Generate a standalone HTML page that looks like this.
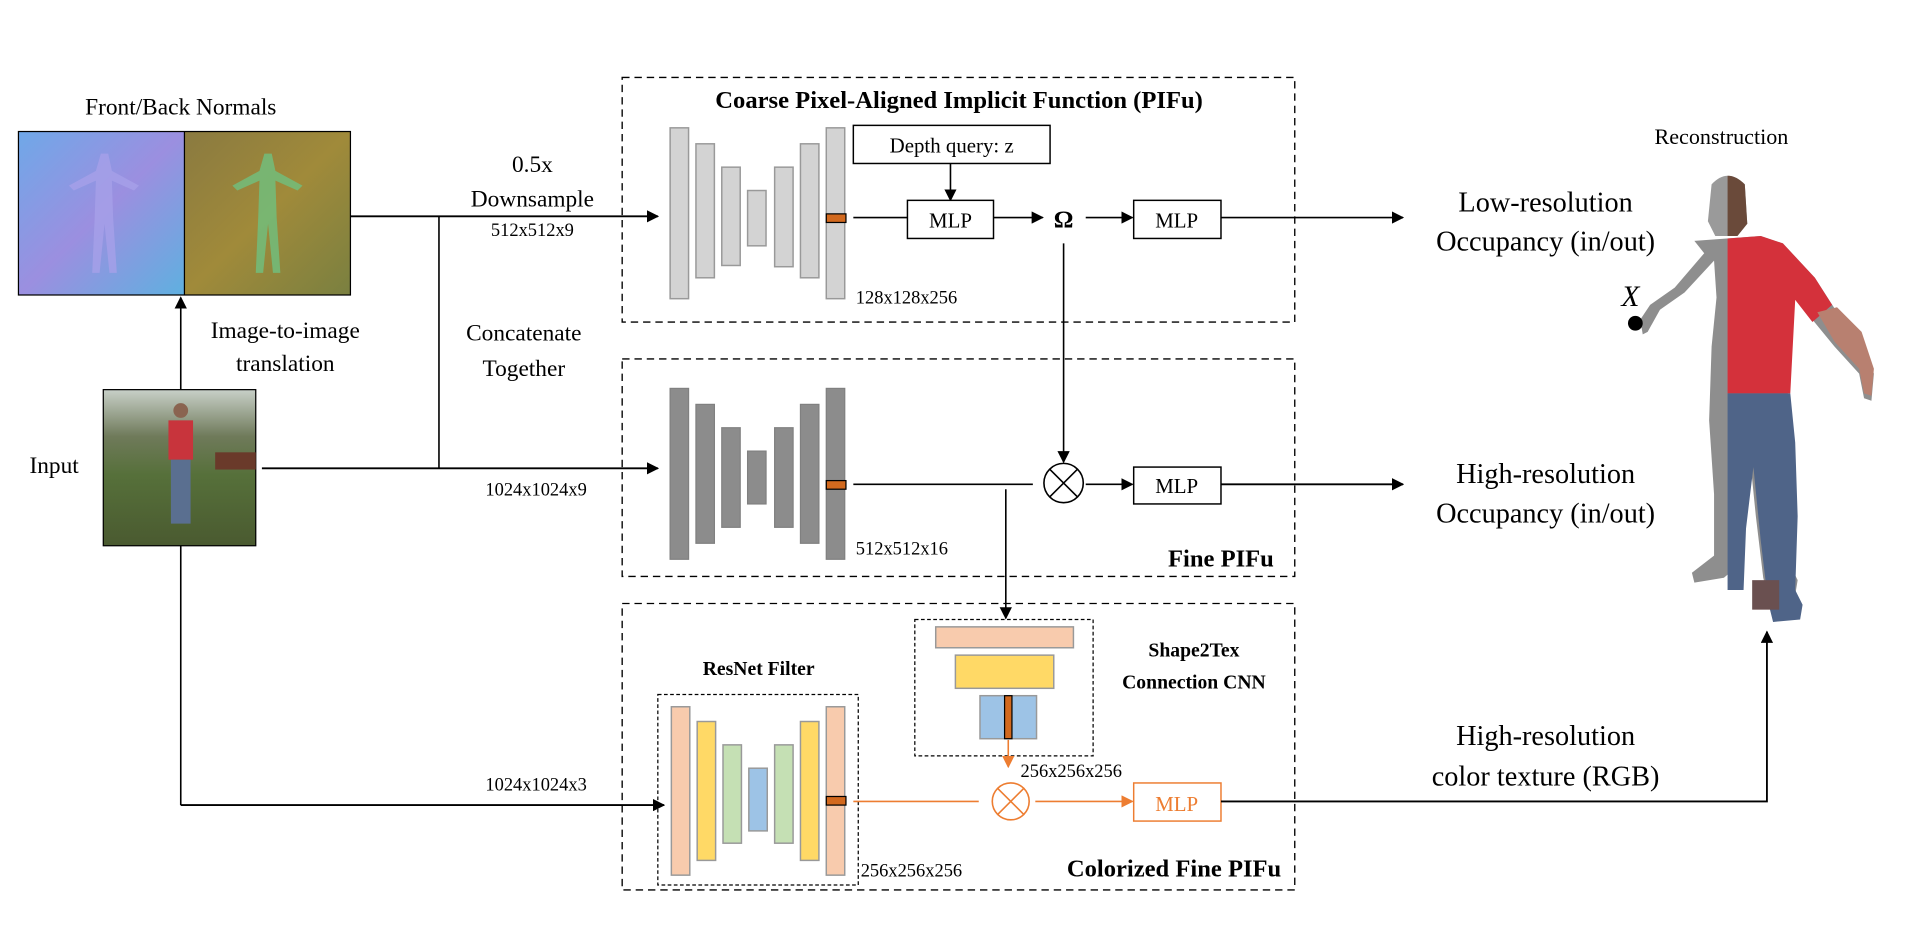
<!DOCTYPE html>
<html><head><meta charset="utf-8"><style>
html,body{margin:0;padding:0;background:#fff;overflow:hidden;}
svg{display:block;}
text{font-family:"Liberation Serif","Times New Roman",serif;fill:#000;}
</style></head><body>
<svg width="1928" height="928" viewBox="0 0 1568 755" preserveAspectRatio="none" xmlns="http://www.w3.org/2000/svg">
<defs>
<marker id="ah" markerWidth="10" markerHeight="10" refX="9" refY="5" orient="auto" markerUnits="userSpaceOnUse"><path d="M0,0 L10,5 L0,10 z" fill="#000"/></marker>
<marker id="ao" markerWidth="10" markerHeight="10" refX="9" refY="5" orient="auto" markerUnits="userSpaceOnUse"><path d="M0,0 L10,5 L0,10 z" fill="#ed7d31"/></marker>
<linearGradient id="nb" x1="0" y1="0" x2="1" y2="1"><stop offset="0" stop-color="#6fa8e8"/><stop offset="0.5" stop-color="#9b8fe0"/><stop offset="1" stop-color="#5fb0e0"/></linearGradient>
<linearGradient id="ng" x1="0" y1="0" x2="1" y2="1"><stop offset="0" stop-color="#8a7a40"/><stop offset="0.5" stop-color="#a08a3a"/><stop offset="1" stop-color="#7a8040"/></linearGradient>
<linearGradient id="ph" x1="0" y1="0" x2="0" y2="1"><stop offset="0" stop-color="#c8d0c8"/><stop offset="0.3" stop-color="#6f7a5a"/><stop offset="0.55" stop-color="#56703a"/><stop offset="1" stop-color="#4a5a30"/></linearGradient>
<clipPath id="rh"><rect x="1405" y="100" width="200" height="420"/></clipPath>
</defs>

<text x="147" y="93" font-size="19" text-anchor="middle">Front/Back Normals</text>
<rect x="15" y="107" width="135" height="133" fill="url(#nb)"/>
<rect x="150" y="107" width="135" height="133" fill="url(#ng)"/>
<path d="M82,125 l6,0 l3,14 l22,12 l-4,4 l-18,-8 l1,30 l3,45 l-6,0 l-4,-40 l-4,40 l-6,0 l2,-45 l1,-30 l-18,8 l-4,-4 l22,-12 z" fill="#a6a0e8" opacity="0.8"/>
<path d="M215,125 l6,0 l3,14 l22,12 l-4,4 l-18,-8 l1,30 l3,45 l-6,0 l-4,-40 l-4,40 l-6,0 l2,-45 l1,-30 l-18,8 l-4,-4 l22,-12 z" fill="#6fc080" opacity="0.8"/>
<rect x="15" y="107" width="270" height="133" fill="none" stroke="#000" stroke-width="1"/>
<line x1="150" y1="107" x2="150" y2="240" stroke="#000" stroke-width="1"/>

<line x1="147" y1="317" x2="147" y2="242" stroke="#000" stroke-width="1.3" marker-end="url(#ah)"/>
<text x="232" y="275" font-size="19" text-anchor="middle">Image-to-image</text>
<text x="232" y="302" font-size="19" text-anchor="middle">translation</text>

<rect x="84" y="317" width="124" height="127" fill="url(#ph)" stroke="#000" stroke-width="1"/>
<rect x="137" y="342" width="20" height="32" fill="#c8343c"/>
<rect x="139" y="374" width="16" height="52" fill="#5a6f90"/>
<circle cx="147" cy="334" r="6" fill="#8a6450"/>
<rect x="175" y="368" width="33" height="14" fill="#6a3a2a"/>
<text x="44" y="385" font-size="19" text-anchor="middle">Input</text>

<line x1="285" y1="176" x2="535" y2="176" stroke="#000" stroke-width="1.5" marker-end="url(#ah)"/>
<line x1="357" y1="176" x2="357" y2="381" stroke="#000" stroke-width="1.3"/>
<line x1="213" y1="381" x2="535" y2="381" stroke="#000" stroke-width="1.5" marker-end="url(#ah)"/>
<line x1="147" y1="444" x2="147" y2="655" stroke="#000" stroke-width="1.3"/>
<line x1="147" y1="655" x2="540" y2="655" stroke="#000" stroke-width="1.5" marker-end="url(#ah)"/>
<text x="433" y="140" font-size="19" text-anchor="middle">0.5x</text>
<text x="433" y="168" font-size="19" text-anchor="middle">Downsample</text>
<text x="433" y="192" font-size="15" text-anchor="middle">512x512x9</text>
<text x="426" y="277" font-size="19" text-anchor="middle">Concatenate</text>
<text x="426" y="306" font-size="19" text-anchor="middle">Together</text>
<text x="436" y="403" font-size="15" text-anchor="middle">1024x1024x9</text>
<text x="436" y="643" font-size="15" text-anchor="middle">1024x1024x3</text>

<rect x="506" y="63" width="547" height="199" fill="none" stroke="#000" stroke-width="1.1" stroke-dasharray="6,4"/>
<text x="780" y="88" font-size="20" font-weight="bold" text-anchor="middle">Coarse Pixel-Aligned Implicit Function (PIFu)</text>
<g fill="#d3d3d3" stroke="#999" stroke-width="1.2">
<rect x="545" y="104" width="15" height="139"/>
<rect x="566" y="117" width="15" height="109"/>
<rect x="587" y="136" width="15" height="80"/>
<rect x="608" y="155" width="15" height="45"/>
<rect x="630" y="136" width="15" height="81"/>
<rect x="651" y="117" width="15" height="109"/>
<rect x="672" y="104" width="15" height="139"/>
</g>
<rect x="672" y="174" width="16" height="7" fill="#d2691e" stroke="#000" stroke-width="1"/>
<line x1="694" y1="177" x2="738" y2="177" stroke="#000" stroke-width="1.3"/>
<rect x="694" y="102" width="160" height="31" fill="#fff" stroke="#000" stroke-width="1.2"/>
<text x="774" y="124" font-size="17" text-anchor="middle">Depth query: z</text>
<line x1="773" y1="133" x2="773" y2="163" stroke="#000" stroke-width="1.3" marker-end="url(#ah)"/>
<rect x="738" y="163" width="70" height="31" fill="#fff" stroke="#000" stroke-width="1.2"/>
<text x="773" y="185" font-size="17" text-anchor="middle">MLP</text>
<line x1="808" y1="177" x2="848" y2="177" stroke="#000" stroke-width="1.3" marker-end="url(#ah)"/>
<text x="865" y="185" font-size="20" font-weight="bold" text-anchor="middle">Ω</text>
<line x1="883" y1="177" x2="921" y2="177" stroke="#000" stroke-width="1.3" marker-end="url(#ah)"/>
<rect x="922" y="163" width="71" height="31" fill="#fff" stroke="#000" stroke-width="1.2"/>
<text x="957" y="185" font-size="17" text-anchor="middle">MLP</text>
<line x1="993" y1="177" x2="1141" y2="177" stroke="#000" stroke-width="1.3" marker-end="url(#ah)"/>
<text x="696" y="247" font-size="15">128x128x256</text>
<line x1="865" y1="198" x2="865" y2="376" stroke="#000" stroke-width="1.3" marker-end="url(#ah)"/>

<rect x="506" y="292" width="547" height="177" fill="none" stroke="#000" stroke-width="1.1" stroke-dasharray="6,4"/>
<g fill="#8c8c8c" stroke="#808080" stroke-width="1">
<rect x="545" y="316" width="15" height="139"/>
<rect x="566" y="329" width="15" height="113"/>
<rect x="587" y="348" width="15" height="81"/>
<rect x="608" y="367" width="15" height="43"/>
<rect x="630" y="348" width="15" height="81"/>
<rect x="651" y="329" width="15" height="113"/>
<rect x="672" y="316" width="15" height="139"/>
</g>
<rect x="672" y="391" width="16" height="7" fill="#d2691e" stroke="#000" stroke-width="1"/>
<line x1="694" y1="394" x2="840" y2="394" stroke="#000" stroke-width="1.3"/>
<circle cx="865" cy="393" r="16" fill="#fff" stroke="#000" stroke-width="1.3"/>
<path d="M854,382 L876,404 M876,382 L854,404" stroke="#000" stroke-width="1.3"/>
<line x1="883" y1="394" x2="921" y2="394" stroke="#000" stroke-width="1.3" marker-end="url(#ah)"/>
<rect x="922" y="380" width="71" height="30" fill="#fff" stroke="#000" stroke-width="1.2"/>
<text x="957" y="401" font-size="17" text-anchor="middle">MLP</text>
<line x1="993" y1="394" x2="1141" y2="394" stroke="#000" stroke-width="1.5" marker-end="url(#ah)"/>
<text x="696" y="451" font-size="15">512x512x16</text>
<text x="1036" y="461" font-size="20" font-weight="bold" text-anchor="end">Fine PIFu</text>
<line x1="818" y1="398" x2="818" y2="503" stroke="#000" stroke-width="1.3" marker-end="url(#ah)"/>

<rect x="506" y="491" width="547" height="233" fill="none" stroke="#000" stroke-width="1.1" stroke-dasharray="6,4"/>
<text x="617" y="549" font-size="16" font-weight="bold" text-anchor="middle">ResNet Filter</text>
<rect x="535" y="565" width="163" height="155" fill="none" stroke="#000" stroke-width="1" stroke-dasharray="3,2"/>
<g stroke="#999" stroke-width="1.2">
<rect x="546" y="575" width="15" height="137" fill="#f8cbad"/>
<rect x="567" y="587" width="15" height="113" fill="#ffd966"/>
<rect x="588" y="606" width="15" height="80" fill="#c5e0b4"/>
<rect x="609" y="625" width="15" height="51" fill="#9dc3e6"/>
<rect x="630" y="606" width="15" height="80" fill="#c5e0b4"/>
<rect x="651" y="587" width="15" height="113" fill="#ffd966"/>
<rect x="672" y="575" width="15" height="137" fill="#f8cbad"/>
</g>
<rect x="672" y="648" width="16" height="7" fill="#d2691e" stroke="#000" stroke-width="1"/>
<rect x="744" y="504" width="145" height="111" fill="none" stroke="#000" stroke-width="1" stroke-dasharray="3,2"/>
<g stroke="#999" stroke-width="1.2">
<rect x="761" y="510" width="112" height="17" fill="#f8cbad"/>
<rect x="777" y="533" width="80" height="27" fill="#ffd966"/>
<rect x="797" y="566" width="46" height="35" fill="#9dc3e6"/>
</g>
<rect x="817" y="566" width="6" height="35" fill="#d2691e" stroke="#000" stroke-width="1"/>
<text x="971" y="534" font-size="16" font-weight="bold" text-anchor="middle">Shape2Tex</text>
<text x="971" y="560" font-size="16" font-weight="bold" text-anchor="middle">Connection CNN</text>
<line x1="820" y1="602" x2="820" y2="624" stroke="#ed7d31" stroke-width="1.3" marker-end="url(#ao)"/>
<text x="830" y="632" font-size="15">256x256x256</text>
<line x1="694" y1="652" x2="796" y2="652" stroke="#ed7d31" stroke-width="1.3"/>
<circle cx="822" cy="652" r="15" fill="#fff" stroke="#ed7d31" stroke-width="1.3"/>
<path d="M811,641 L833,663 M833,641 L811,663" stroke="#ed7d31" stroke-width="1.3"/>
<line x1="842" y1="652" x2="921" y2="652" stroke="#ed7d31" stroke-width="1.3" marker-end="url(#ao)"/>
<rect x="922" y="637" width="71" height="31" fill="#fff" stroke="#ed7d31" stroke-width="1.2"/>
<text x="957" y="660" font-size="17" text-anchor="middle" style="fill:#ed7d31">MLP</text>
<polyline points="993,652 1437,652 1437,514" fill="none" stroke="#000" stroke-width="1.5" marker-end="url(#ah)"/>
<text x="700" y="713" font-size="15">256x256x256</text>
<text x="1042" y="713" font-size="20" font-weight="bold" text-anchor="end">Colorized Fine PIFu</text>

<text x="1400" y="117" font-size="18" text-anchor="middle">Reconstruction</text>
<text x="1257" y="172" font-size="23" text-anchor="middle">Low-resolution</text>
<text x="1257" y="204" font-size="23" text-anchor="middle">Occupancy (in/out)</text>
<text x="1257" y="393" font-size="23" text-anchor="middle">High-resolution</text>
<text x="1257" y="425" font-size="23" text-anchor="middle">Occupancy (in/out)</text>
<text x="1257" y="606" font-size="23" text-anchor="middle">High-resolution</text>
<text x="1257" y="639" font-size="23" text-anchor="middle">color texture (RGB)</text>

<g id="fig">
<path d="M1392,150 q13,-14 27,0 l2,32 l-8,10 l-18,0 l-6,-12 z" fill="#9a9a9a"/>
<path d="M1378,196 l54,-4 l18,6 l26,28 l18,28 l20,20 l10,30 l-2,22 l-6,-2 l-4,-20 l-20,-22 l-18,-22 l-16,-20 l-6,60 l4,40 l2,60 l-2,60 l6,12 l-2,12 l-22,2 l-4,-16 l-6,-50 l-6,-60 l-6,50 l-2,50 l-12,10 l-24,4 l-2,-8 l18,-14 l0,-50 l-4,-60 l2,-60 l4,-40 l-2,-30 l-24,26 l-20,14 l-10,18 l-4,2 l-2,-12 l8,-12 l20,-14 l24,-28 z" fill="#8e8e8e"/>
<g clip-path="url(#rh)">
<path d="M1392,150 q13,-14 27,0 l2,32 l-8,10 l-18,0 l-6,-12 z" fill="#6a4a3a"/>
<path d="M1378,196 l54,-4 l18,6 l26,28 l14,22 l-16,14 l-14,-18 l-4,76 l-56,0 l0,-120 z" fill="#d4313b"/>
<path d="M1478,254 l16,-4 l20,20 l10,30 l-2,22 l-6,-2 l-4,-20 l-20,-22 z" fill="#b88070"/>
<path d="M1400,320 l56,0 l4,40 l2,60 l-2,60 l6,12 l-2,12 l-22,2 l-4,-16 l-6,-50 l-6,-60 l-6,50 l-2,50 l-20,0 l0,-160 z" fill="#4f6488"/>
<rect x="1425" y="472" width="22" height="24" fill="#6a5050"/>
</g>
</g>
<text x="1326" y="249" font-size="24" font-style="italic" text-anchor="middle">X</text>
<circle cx="1330" cy="263" r="6" fill="#000"/>
</svg>
</body></html>
